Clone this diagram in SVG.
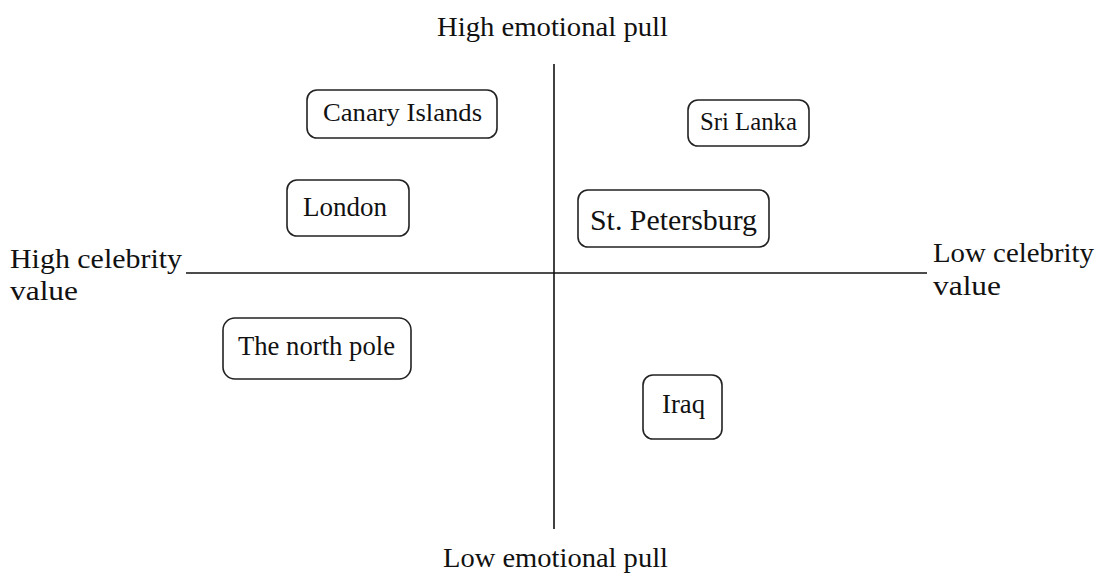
<svg xmlns="http://www.w3.org/2000/svg" width="1104" height="577" viewBox="0 0 1104 577">
<style>
text{font-family:"Liberation Serif","Times New Roman",serif;font-size:28px;fill:#111}
.b{fill:#fff;stroke:#222;stroke-width:1.6}
.ax{stroke:#111;stroke-width:1.6}
</style>
<rect width="1104" height="577" fill="#fff"/>
<g id="connectors">
<line class="ax" x1="554" y1="64" x2="554" y2="529"/>
<line class="ax" x1="186" y1="273" x2="927" y2="273"/>
</g>
<g id="labels">
<text x="437" y="36" textLength="231" lengthAdjust="spacingAndGlyphs">High emotional pull</text>
<text x="443" y="567" textLength="225" lengthAdjust="spacingAndGlyphs">Low emotional pull</text>
<text x="10" y="268" textLength="172" lengthAdjust="spacingAndGlyphs">High celebrity</text>
<text x="10" y="300" textLength="68" lengthAdjust="spacingAndGlyphs">value</text>
<text x="933" y="262" textLength="161" lengthAdjust="spacingAndGlyphs">Low celebrity</text>
<text x="933" y="295" textLength="68" lengthAdjust="spacingAndGlyphs">value</text>
</g>
<g id="canary"><rect class="b" x="307" y="90" width="190" height="48" rx="10"/><text x="323" y="121" style="font-size:26px" textLength="159" lengthAdjust="spacingAndGlyphs">Canary Islands</text></g>
<g id="london"><rect class="b" x="287" y="180" width="122" height="56" rx="10"/><text x="303" y="216" style="font-size:27px" textLength="84" lengthAdjust="spacingAndGlyphs">London</text></g>
<g id="srilanka"><rect class="b" x="688" y="100" width="121" height="46" rx="10"/><text x="700" y="130" style="font-size:25px" textLength="97" lengthAdjust="spacingAndGlyphs">Sri Lanka</text></g>
<g id="stpetersburg"><rect class="b" x="578" y="190" width="191" height="57" rx="10"/><text x="590" y="230" style="font-size:29px" textLength="167" lengthAdjust="spacingAndGlyphs">St. Petersburg</text></g>
<g id="northpole"><rect class="b" x="223" y="318" width="188" height="61" rx="12"/><text x="238" y="355" style="font-size:27px" textLength="157" lengthAdjust="spacingAndGlyphs">The north pole</text></g>
<g id="iraq"><rect class="b" x="643" y="375" width="79" height="64" rx="10"/><text x="662" y="413" style="font-size:27px" textLength="43" lengthAdjust="spacingAndGlyphs">Iraq</text></g>
</svg>
